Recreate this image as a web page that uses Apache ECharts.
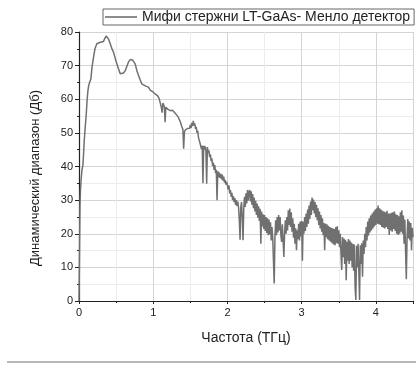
<!DOCTYPE html>
<html>
<head>
<meta charset="utf-8">
<script src="https://cdn.jsdelivr.net/npm/echarts@6/dist/echarts.min.js"></script>
<style>
  html, body { margin: 0; padding: 0; background: #fff; }
  #chart { width: 416px; height: 366px; }
</style>
</head>
<body>
<div id="chart"></div>
<script>
// Dynamic range spectrum of the LT-GaAs rod emitter with Menlo detector.
const seriesName = 'Мифи стержни LT-GaAs- Менло детектор';
const xAxisName = 'Частота (ТГц)';
const yAxisName = 'Динамический диапазон (Дб)';

// Low-frequency part: [frequency THz, dB]
const lowBand = [
  [0, 0], [0.004, 8], [0.008, 17], [0.013, 28], [0.02, 33], [0.03, 36.5], [0.04, 39],
  [0.053, 40.5], [0.062, 44], [0.071, 47.8], [0.085, 52], [0.098, 55.7], [0.11, 60],
  [0.12, 62.5], [0.13, 64], [0.14, 64.8], [0.15, 64.5], [0.16, 66], [0.175, 69.5],
  [0.196, 72.5], [0.215, 75], [0.24, 76.5], [0.27, 76.8], [0.30, 77], [0.33, 77.2],
  [0.35, 78.2], [0.365, 78.8], [0.385, 78.6], [0.40, 77.8], [0.42, 76.6], [0.44, 75.2],
  [0.465, 74], [0.50, 71.2], [0.53, 69.2], [0.555, 67.6], [0.578, 67.2], [0.60, 67.8],
  [0.625, 68.6], [0.645, 69.8], [0.67, 71.2], [0.69, 71.8], [0.72, 71.7], [0.74, 71.2],
  [0.757, 70.5], [0.78, 68.5], [0.80, 67.2], [0.824, 65.8], [0.845, 64.6], [0.868, 64.2],
  [0.90, 63.9], [0.935, 63.6], [0.96, 62.7], [0.98, 62.2]
];

// Higher-frequency part, sampled every 0.01 THz starting at 1.00 THz
const denseStart = 1.00;
const denseStep = 0.01;
const denseDb = [
  62.1, 61.8, 61.9, 61.5, 61.6, 61.2, 61.0, 60.6, 60.2, 59.3,
  58.8, 57.5, 56.0, 58.9, 59.4, 57.8, 53.2, 57.6, 57.9, 57.2,
  57.0, 56.8, 57.1, 56.6, 56.9, 56.4, 56.7, 56.2, 56.5, 56.0,
  55.8, 55.9, 55.2, 55.0, 54.6, 54.0, 53.5, 53.0, 52.2, 51.6,
  51.0, 45.3, 50.2, 50.8, 51.2, 50.6, 51.3, 51.0, 51.6, 51.4,
  52.4, 51.4, 53.0, 52.0, 53.6, 52.2, 52.8, 51.2, 51.8, 50.0,
  50.6, 48.6, 49.0, 47.0, 47.4, 45.2, 46.2, 35.0, 46.2, 45.0,
  46.0, 44.6, 34.9, 45.8, 44.0, 44.8, 42.8, 43.6, 41.6, 42.4,
  40.2, 41.2, 39.0, 40.4, 38.0, 39.0, 30.0, 38.6, 36.8, 38.2,
  36.6, 37.8, 36.2, 37.6, 35.8, 37.0, 35.2, 36.0, 34.6, 35.4,
  35.0, 33.2, 34.4, 32.0, 33.0, 31.0, 32.2, 30.0, 31.2, 29.4,
  30.6, 28.6, 30.0, 28.2, 29.6, 27.8, 24.0, 18.2, 28.0, 29.4,
  24.5, 18.1, 27.6, 31.0, 28.0, 32.0, 29.0, 33.0, 29.8, 32.4,
  33.0, 29.6, 32.6, 28.6, 31.8, 27.6, 30.8, 26.6, 29.8, 25.6,
  29.0, 24.8, 28.2, 23.8, 27.4, 17.0, 26.6, 22.2, 25.8, 21.4,
  25.6, 20.8, 25.0, 20.2, 24.6, 19.6, 24.2, 19.8, 23.4, 18.0,
  22.0, 19.0, 12.0, 5.2, 19.0, 24.0, 19.6, 25.0, 20.4, 25.6,
  21.0, 25.0, 19.5, 17.6, 22.8, 18.0, 13.1, 20.0, 24.0, 20.0,
  25.0, 21.0, 27.0, 22.6, 27.5, 22.0, 26.4, 20.6, 24.6, 18.8,
  23.0, 17.0, 21.6, 15.1, 21.0, 18.4, 23.0, 18.0, 23.6, 19.2,
  23.8, 12.0, 23.6, 20.0, 25.0, 20.8, 26.0, 22.0, 27.2, 23.0,
  28.4, 24.4, 29.6, 25.6, 30.8, 27.0, 30.2, 26.0, 29.4, 25.0,
  28.6, 24.0, 27.6, 22.6, 26.6, 21.6, 25.6, 20.6, 24.6, 19.6,
  23.2, 15.1, 23.0, 19.0, 22.8, 18.4, 22.4, 18.0, 22.0, 17.6,
  21.8, 17.2, 21.6, 16.8, 21.4, 16.6, 22.0, 17.2, 22.2, 17.0,
  21.0, 16.0, 20.0, 14.0, 9.2, 19.0, 13.0, 18.6, 11.0, 18.2,
  6.2, 17.6, 12.0, 18.4, 11.0, 18.0, 12.0, 17.4, 10.0, 17.0,
  9.0, 16.8, 4.0, 0.3, 16.4, 10.0, 17.0, 9.0, 0.3, 16.6,
  11.0, 17.2, 7.2, 18.0, 14.0, 20.0, 16.0, 22.0, 18.0, 23.6,
  19.4, 24.6, 20.4, 25.4, 21.0, 26.0, 21.6, 26.6, 22.2, 27.2,
  22.6, 27.6, 23.0, 28.4, 22.8, 27.6, 22.6, 27.2, 22.0, 26.8,
  21.8, 26.6, 21.6, 26.4, 22.0, 26.8, 21.4, 26.0, 19.6, 26.0,
  21.0, 26.2, 20.6, 26.4, 21.4, 26.6, 20.8, 25.8, 20.0, 25.6,
  19.6, 25.2, 20.0, 26.4, 20.6, 27.0, 20.0, 25.4, 17.0, 24.2,
  15.0, 6.5, 18.8, 24.4, 18.6, 23.6, 18.0, 23.2, 15.1, 21.8,
  19.0
];

const spectrum = lowBand.concat(
  denseDb.map((v, i) => [+(denseStart + i * denseStep).toFixed(2), v])
);

const FONT = '"Liberation Sans", Arial, sans-serif';
const LINE_COLOR = '#707070';
const chart = echarts.init(document.getElementById('chart'), null, { renderer: 'canvas' });

chart.setOption({
  animation: false,
  backgroundColor: '#ffffff',
  grid: { left: 79, right: 3, top: 32, bottom: 65 },
  legend: {
    left: 103, top: 9,
    data: [{ name: seriesName, icon: 'rect' }],
    borderColor: '#666', borderWidth: 1,
    padding: [1, 4, 1, 2],
    itemWidth: 32, itemHeight: 1.6, itemGap: 6,
    itemStyle: { color: LINE_COLOR },
    textStyle: { fontFamily: FONT, fontSize: 14, color: '#222' }
  },
  xAxis: {
    type: 'value', min: 0, max: 4.5, interval: 1,
    name: xAxisName, nameLocation: 'middle', nameGap: 30,
    nameTextStyle: { fontFamily: FONT, fontSize: 14, color: '#222' },
    axisLine: { onZero: false, lineStyle: { color: '#222', width: 1.2 } },
    axisTick: { show: true, inside: false, length: 3, lineStyle: { color: '#222' } },
    minorTick: { show: true, splitNumber: 2, length: 2, lineStyle: { color: '#222' } },
    axisLabel: {
      fontFamily: FONT, fontSize: 11, color: '#222', margin: 6,
      formatter: v => (Math.abs(v - Math.round(v)) < 1e-6 ? String(Math.round(v)) : '')
    },
    splitLine: { show: true, lineStyle: { color: '#d4d4d4', width: 1 } },
    minorSplitLine: { show: true, lineStyle: { color: '#ececec', width: 1 } }
  },
  yAxis: {
    type: 'value', min: 0, max: 80, interval: 10,
    axisLine: { show: true, lineStyle: { color: '#222', width: 1.2 } },
    axisTick: { show: true, inside: false, length: 4, lineStyle: { color: '#222' } },
    minorTick: { show: true, splitNumber: 2, length: 2, lineStyle: { color: '#222' } },
    axisLabel: { fontFamily: FONT, fontSize: 11, color: '#222', margin: 6 },
    splitLine: { show: true, lineStyle: { color: '#d4d4d4', width: 1 } },
    minorSplitLine: { show: true, lineStyle: { color: '#ececec', width: 1 } }
  },
  series: [{
    name: seriesName,
    type: 'line',
    data: spectrum,
    symbol: 'none',
    lineStyle: { color: LINE_COLOR, width: 1.5 },
    itemStyle: { color: LINE_COLOR },
    clip: true
  }],
  graphic: [
    {
      // rotated y-axis title
      type: 'text',
      x: 35, y: 178,
      rotation: Math.PI / 2,
      style: {
        text: yAxisName,
        fontFamily: FONT, fontSize: 13, fill: '#222',
        align: 'center', verticalAlign: 'middle'
      }
    },
    {
      type: 'line',
      shape: { x1: 7, y1: 362, x2: 416, y2: 362 },
      style: { stroke: '#a0a0a0', lineWidth: 1.5 }
    }
  ]
});
</script>
</body>
</html>
